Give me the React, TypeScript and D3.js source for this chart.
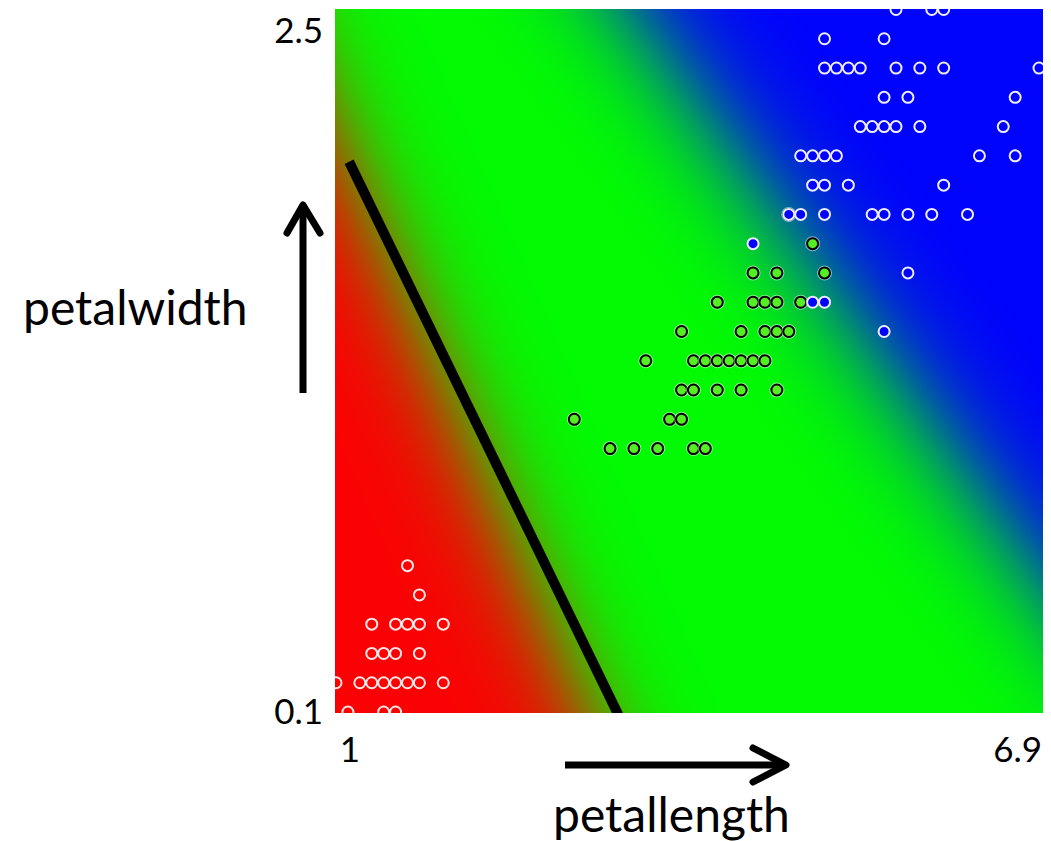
import React from 'react';
import * as d3 from 'd3';

const setosa: [number, number][] = [
  [1.1, 0.1], [1.4, 0.1], [1.5, 0.1],
  [1.0, 0.2], [1.2, 0.2], [1.3, 0.2], [1.4, 0.2], [1.5, 0.2], [1.6, 0.2], [1.7, 0.2], [1.9, 0.2],
  [1.3, 0.3], [1.4, 0.3], [1.5, 0.3], [1.7, 0.3],
  [1.3, 0.4], [1.5, 0.4], [1.6, 0.4], [1.7, 0.4], [1.9, 0.4],
  [1.7, 0.5], [1.6, 0.6],
];
const versicolor: [number, number][] = [
  [3.3, 1.0], [3.5, 1.0], [3.7, 1.0], [4.0, 1.0], [4.1, 1.0],
  [3.0, 1.1], [3.8, 1.1], [3.9, 1.1],
  [3.9, 1.2], [4.0, 1.2], [4.2, 1.2], [4.4, 1.2], [4.7, 1.2],
  [3.6, 1.3], [4.0, 1.3], [4.1, 1.3], [4.2, 1.3], [4.3, 1.3], [4.4, 1.3], [4.5, 1.3], [4.6, 1.3],
  [3.9, 1.4], [4.4, 1.4], [4.6, 1.4], [4.7, 1.4], [4.8, 1.4],
  [4.2, 1.5], [4.5, 1.5], [4.6, 1.5], [4.7, 1.5], [4.9, 1.5],
  [4.5, 1.6], [4.7, 1.6], [5.1, 1.6],
  [5.0, 1.7], [4.8, 1.8],
];
const virginica: [number, number][] = [
  [5.6, 1.4], [5.0, 1.5], [5.1, 1.5], [5.8, 1.6], [4.5, 1.7],
  [4.8, 1.8], [4.9, 1.8], [5.1, 1.8], [5.5, 1.8], [5.6, 1.8], [5.8, 1.8], [6.0, 1.8], [6.3, 1.8],
  [5.0, 1.9], [5.1, 1.9], [5.3, 1.9], [6.1, 1.9],
  [4.9, 2.0], [5.0, 2.0], [5.1, 2.0], [5.2, 2.0], [6.4, 2.0], [6.7, 2.0],
  [5.4, 2.1], [5.5, 2.1], [5.6, 2.1], [5.7, 2.1], [5.9, 2.1], [6.6, 2.1],
  [5.6, 2.2], [5.8, 2.2], [6.7, 2.2],
  [5.1, 2.3], [5.2, 2.3], [5.3, 2.3], [5.4, 2.3], [5.7, 2.3], [5.9, 2.3], [6.1, 2.3], [6.9, 2.3],
  [5.1, 2.4], [5.6, 2.4],
  [5.7, 2.5], [6.0, 2.5], [6.1, 2.5],
];

const lengthTicks = [1, 6.9];
const widthTicks = [0.1, 2.5];

// class boundaries of the background and the drawn separator, in data units
const redGreenBoundary: [number, number][] = [[1.0, 2.09], [3.13, 0.1]];
const greenBlueBoundary: [number, number][] = [[3.47, 2.5], [6.93, 0.55]];
const separator: [number, number][] = [[1.11, 1.98], [3.37, 0.09]];

const frame = { left: 335, right: 1043, top: 9, bottom: 713 };
const x = d3.scaleLinear().domain([1, 6.9]).range([336, 1039]);
const y = d3.scaleLinear().domain([0.1, 2.5]).range([712, 9.5]);

const font = "Lato, 'Open Sans', sans-serif";

// gradient line across a boundary, fading the colour out away from `side`
function fade(boundary: [number, number][], side: [number, number], halfSpan: number) {
  const [a, b] = boundary.map(([l, w]) => [x(l), y(w)]);
  const dx = b[0] - a[0], dy = b[1] - a[1];
  const len = Math.hypot(dx, dy);
  let nx = -dy / len, ny = dx / len;
  const mx = (a[0] + b[0]) / 2, my = (a[1] + b[1]) / 2;
  if ((side[0] - mx) * nx + (side[1] - my) * ny > 0) { nx = -nx; ny = -ny; }
  return { x1: mx - nx * halfSpan, y1: my - ny * halfSpan, x2: mx + nx * halfSpan, y2: my + ny * halfSpan };
}

const sigmoidStops = (soft: number, halfSpan: number) =>
  d3.range(0, 1.0001, 0.05).map(t => {
    const d = (t - 0.5) * 2 * halfSpan;
    return { offset: t, opacity: 1 / (1 + Math.exp(d / soft)) };
  });

export default function App() {
  const span = 130;
  const redG = fade(redGreenBoundary, [frame.left, frame.bottom], span);
  const blueG = fade(greenBlueBoundary, [frame.right, frame.top], span);
  const redStops = sigmoidStops(26, span);
  const blueStops = sigmoidStops(30, span);
  const line = d3.line<[number, number]>().x(d => x(d[0])).y(d => y(d[1]));
  const fw = frame.right - frame.left, fh = frame.bottom - frame.top;

  return (
    <svg width={1051} height={841} style={{ position: 'absolute', left: 0, top: 0, background: '#fff' }}>
      <defs>
        <clipPath id="plot">
          <rect x={frame.left} y={frame.top} width={fw} height={fh} />
        </clipPath>
        <linearGradient id="redFade" gradientUnits="userSpaceOnUse" {...redG}>
          {redStops.map((s, i) => <stop key={i} offset={s.offset} stopColor="#ff0000" stopOpacity={s.opacity} />)}
        </linearGradient>
        <linearGradient id="blueFade" gradientUnits="userSpaceOnUse" {...blueG}>
          {blueStops.map((s, i) => <stop key={i} offset={s.offset} stopColor="#0000ff" stopOpacity={s.opacity} />)}
        </linearGradient>
      </defs>

      <rect x={frame.left} y={frame.top} width={fw} height={fh} fill="#00ff00" />
      <rect x={frame.left} y={frame.top} width={fw} height={fh} fill="url(#redFade)" />
      <rect x={frame.left} y={frame.top} width={fw} height={fh} fill="url(#blueFade)" />

      <g clipPath="url(#plot)">
        <path d={line(separator) || ''} stroke="#000" strokeWidth={10} fill="none" />
        {setosa.map((d, i) => (
          <circle key={'s' + i} cx={x(d[0])} cy={y(d[1])} r={5.5} fill="#ff0000" stroke="#ffffff" strokeOpacity={0.9} strokeWidth={2} />
        ))}
        {versicolor.map((d, i) => (
          <g key={'v' + i}>
            <circle cx={x(d[0])} cy={y(d[1])} r={5.5} fill="none" stroke="#ffffff" strokeOpacity={0.5} strokeWidth={4} />
            <circle cx={x(d[0])} cy={y(d[1])} r={5.5} fill="#55ee22" stroke="#000" strokeWidth={2} />
          </g>
        ))}
        {virginica.map((d, i) => (
          <circle key={'g' + i} cx={x(d[0])} cy={y(d[1])} r={5.5} fill="#0000ff" stroke="#eeeeff" strokeWidth={2} />
        ))}
      </g>

      <g fontFamily={font} fill="#000">
        <text x={323} y={43} fontSize={35} textAnchor="end">{widthTicks[1]}</text>
        <text x={323} y={724} fontSize={35} textAnchor="end">{widthTicks[0]}</text>
        <text x={350} y={762} fontSize={35} textAnchor="middle">{lengthTicks[0]}</text>
        <text x={1042} y={762} fontSize={35} textAnchor="end">{lengthTicks[1]}</text>
        <text x={23} y={325} fontSize={48}>petalwidth</text>
        <text x={553} y={832} fontSize={48}>petallength</text>
      </g>

      <g stroke="#000" strokeWidth={7} fill="none">
        <line x1={303} y1={393} x2={303} y2={206} />
        <polyline points="287,233 303,205 320,233" strokeLinecap="round" strokeLinejoin="round" />
        <line x1={565} y1={765} x2={784} y2={765} />
        <polyline points="753,748 786,765 753,782" strokeLinecap="round" strokeLinejoin="round" />
      </g>
    </svg>
  );
}
